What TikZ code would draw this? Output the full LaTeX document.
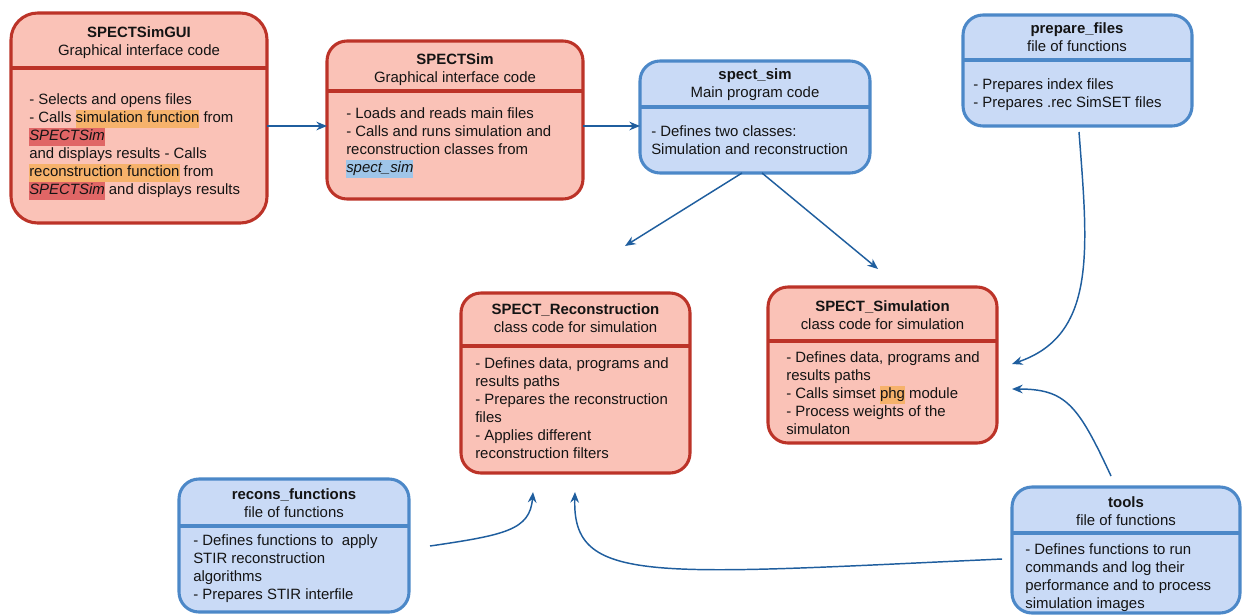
\documentclass[tikz,border=0pt]{standalone}
\usepackage{fontspec}
\setmainfont{Liberation Sans}
\usetikzlibrary{arrows.meta}

\definecolor{redfill}{HTML}{FAC2B7}
\definecolor{redline}{HTML}{BC3328}
\definecolor{bluefill}{HTML}{C9DAF6}
\definecolor{blueline}{HTML}{4C88C8}
\definecolor{arrowc}{HTML}{1F5E9E}
\definecolor{txt}{HTML}{141414}
\definecolor{hlorange}{HTML}{F6B26B}
\definecolor{hlred}{HTML}{E06666}
\definecolor{hlblue}{HTML}{9FC5E8}

% text size used throughout
\newcommand\fs{\fontsize{11.2pt}{13.5pt}\selectfont}
% highlighted words
\newcommand\hlo[1]{{\setlength\fboxsep{0pt}\colorbox{hlorange}{\strut #1}}}
\newcommand\hlr[1]{{\setlength\fboxsep{0pt}\colorbox{hlred}{\strut\itshape #1}}}
\newcommand\hlb[1]{{\setlength\fboxsep{0pt}\colorbox{hlblue}{\strut\itshape #1}}}
% a class box given by its corners (x1,y1)-(x2,y2)
\newcommand\placebox[6]{%
  \node[#1, minimum width={(#5-#3)*0.75pt}, minimum height={(#6-#4)*0.75pt}]
    (#2) at ({(#3+#5)/2},{(#4+#6)/2}) {};}

\tikzset{
  redbox/.style={draw=redline, fill=redfill, line width=2.3pt, rounded corners=15pt,
    inner sep=0pt, outer sep=0pt},
  bluebox/.style={draw=blueline, fill=bluefill, line width=2.3pt, rounded corners=15pt,
    inner sep=0pt, outer sep=0pt},
  reddiv/.style={draw=redline, line width=2.3pt},
  bluediv/.style={draw=blueline, line width=2.3pt},
  ttl/.style={font=\fs, align=center, text=txt, anchor=north, inner sep=0pt},
  bodytxt/.style={font=\fs, align=left, text=txt, anchor=north west, inner sep=0pt},
  link/.style={draw=arrowc, line width=1.1pt, -{Stealth[length=8pt,width=6.5pt]}},
}

\begin{document}
\begin{tikzpicture}[x=0.75pt,y=-0.75pt]
\useasboundingbox (0,0) rectangle (1244,615);

% ---- SPECTSimGUI
\placebox{redbox,rounded corners=20pt}{gui}{11}{13}{267}{223}
\draw[reddiv] (gui.west |- 0,68) -- (gui.east |- 0,68);
\node[ttl] (gui-t) at (139,24.4) {\strut\textbf{SPECTSimGUI}\\Graphical interface code};
\node[bodytxt] (gui-b) at (29,91.4) {\strut- Selects and opens files\\
- Calls \hlo{simulation function} from\\
\hlr{SPECTSim}\\
and displays results - Calls\\
\hlo{reconstruction function} from\\
\hlr{SPECTSim} and displays results};

% ---- SPECTSim
\placebox{redbox}{sim}{327}{41}{583}{199}
\draw[reddiv] (sim.west |- 0,91) -- (sim.east |- 0,91);
\node[ttl] (sim-t) at (455,51.4) {\strut\textbf{SPECTSim}\\Graphical interface code};
\node[bodytxt] (sim-b) at (346,105.4) {\strut- Loads and reads main files\\
- Calls and runs simulation and\\
reconstruction classes from\\
\hlb{spect\_sim}};

% ---- spect_sim
\placebox{bluebox}{spect}{640}{61}{870}{173}
\draw[bluediv] (spect.west |- 0,107) -- (spect.east |- 0,107);
\node[ttl] (spect-t) at (755,66.4) {\strut\textbf{spect\_sim}\\Main program code};
\node[bodytxt] (spect-b) at (651,123.4) {\strut- Defines two classes:\\
Simulation and reconstruction};

% ---- prepare_files
\placebox{bluebox}{prep}{963}{15}{1192}{126}
\draw[bluediv] (prep.west |- 0,60) -- (prep.east |- 0,60);
\node[ttl] (prep-t) at (1077,20.4) {\strut\textbf{prepare\_files}\\file of functions};
\node[bodytxt] (prep-b) at (973,76.4) {\strut- Prepares index files\\
- Prepares .rec SimSET files};

% ---- SPECT_Reconstruction
\placebox{redbox}{recon}{461}{293}{690}{473}
\draw[reddiv] (recon.west |- 0,346) -- (recon.east |- 0,346);
\node[ttl] (recon-t) at (575.5,301.4) {\strut\textbf{SPECT\_Reconstruction}\\class code for simulation};
\node[bodytxt] (recon-b) at (475,355.4) {\strut- Defines data, programs and\\
results paths\\
- Prepares the reconstruction\\
files\\
- Applies different\\
reconstruction filters};

% ---- SPECT_Simulation
\placebox{redbox}{simu}{768}{287}{997}{443}
\draw[reddiv] (simu.west |- 0,341) -- (simu.east |- 0,341);
\node[ttl] (simu-t) at (882.5,298.4) {\strut\textbf{SPECT\_Simulation}\\class code for simulation};
\node[bodytxt] (simu-b) at (786,349.4) {\strut- Defines data, programs and\\
results paths\\
- Calls simset \hlo{phg} module\\
- Process weights of the\\
simulaton};

% ---- recons_functions
\placebox{bluebox}{rfun}{179}{479}{409}{612}
\draw[bluediv] (rfun.west |- 0,526) -- (rfun.east |- 0,526);
\node[ttl] (rfun-t) at (294,486.4) {\strut\textbf{recons\_functions}\\file of functions};
\node[bodytxt] (rfun-b) at (193,532.4) {\strut- Defines functions to~ apply\\
STIR reconstruction\\
algorithms\\
- Prepares STIR interfile};

% ---- tools
\placebox{bluebox}{tools}{1012}{487}{1240}{613}
\draw[bluediv] (tools.west |- 0,533) -- (tools.east |- 0,533);
\node[ttl] (tools-t) at (1126,494.4) {\strut\textbf{tools}\\file of functions};
\node[bodytxt] (tools-b) at (1025,541.4) {\strut- Defines functions to run\\
commands and log their\\
performance and to process\\
simulation images};

% ---- free ends of the connectors
\coordinate (recin) at (625,246);
\coordinate (simin) at (878,269);
\coordinate (prepout) at (1079,132);
\coordinate (simin2) at (1012,364);
\coordinate (toolsout) at (1111,476);
\coordinate (simin3) at (1012,389);
\coordinate (rfunout) at (430,546);
\coordinate (recin2) at (533,492);
\coordinate (toolsout2) at (1002,559);
\coordinate (recin3) at (575,492);

% ---- connectors
\draw[link] (gui.east |- 0,126) -- (sim.west |- 0,126);
\draw[link] (sim.east |- 0,126) -- (spect.west |- 0,126);
\draw[link] (spect.south -| 742,0) -- (recin);
\draw[link] (spect.south -| 762,0) -- (simin);
\draw[link] (prepout) .. controls (1088,250) and (1097,335) .. (simin2);
\draw[link] (toolsout) .. controls (1078,405) and (1066,389) .. (simin3);
\draw[link] (rfunout) .. controls (505,535) and (530,530) .. (recin2);
\draw[link] (toolsout2) .. controls (650,575) and (572,585) .. (recin3);
\end{tikzpicture}
\end{document}
